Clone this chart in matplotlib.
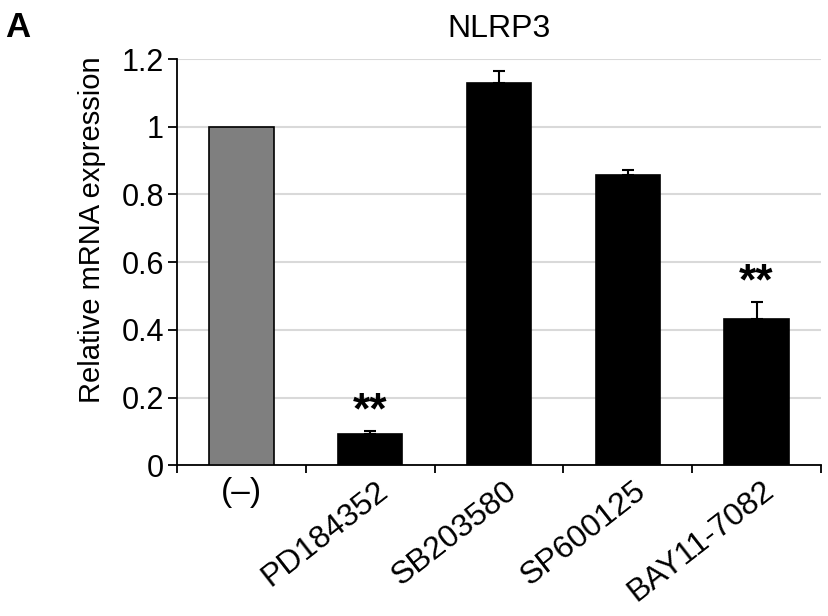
import matplotlib
matplotlib.use("Agg")
import matplotlib.pyplot as plt
import numpy as np

plt.rcParams['font.family'] = ['Liberation Sans', 'DejaVu Sans']

# data
labels = ['(\u2013)', 'PD184352', 'SB203580', 'SP600125', 'BAY11-7082']
values = [1.0, 0.092, 1.13, 0.856, 0.431]
errors = [0.0, 0.010, 0.035, 0.015, 0.051]
colors = ['#7f7f7f', 'black', 'black', 'black', 'black']
stars = ['', '**', '', '', '**']
star_y = [0, 0.125, 0, 0, 0.505]

fig = plt.figure(figsize=(8.29, 6.16), dpi=100)
ax = fig.add_axes([0.2135, 0.2446, 0.7768, 0.6596])

x = np.arange(len(labels))
ax.bar(x, values, width=0.5, color=colors, edgecolor='black', linewidth=1.2, zorder=3)

# upper error bars only, skip the control bar
idx = [i for i in range(len(labels)) if errors[i] > 0]
ax.errorbar(x[idx], [values[i] for i in idx],
            yerr=[[0] * len(idx), [errors[i] for i in idx]],
            fmt='none', ecolor='black', elinewidth=1.5, capsize=4.5, capthick=1.5, zorder=4)

for i, s in enumerate(stars):
    if s:
        ax.text(x[i], star_y[i], s, ha='center', va='baseline', fontsize=32, fontweight='bold')

ax.set_xlim(-0.5, len(labels) - 0.5)
ax.set_ylim(0, 1.2)
ax.set_yticks(np.arange(0, 1.21, 0.2))
ax.set_yticklabels(['0', '0.2', '0.4', '0.6', '0.8', '1', '1.2'])
ax.yaxis.grid(True, color='#d9d9d9', linewidth=1.5, zorder=0)
ax.set_axisbelow(True)

# ticks at category boundaries, labels at centers
ax.set_xticks(np.arange(-0.5, len(labels), 1.0))
ax.set_xticklabels([])
ax.tick_params(axis='x', which='major', length=6, width=1.3, direction='out')
ax.tick_params(axis='y', length=6.5, width=1.3, direction='out', labelsize=22, pad=3)

for i, lab in enumerate(labels):
    if i == 0:
        ax.text(x[i], -0.035, lab, ha='center', va='top', fontsize=24, clip_on=False)
    else:
        ax.text(x[i] + 0.04, -0.03, lab, ha='right', va='top', fontsize=23, rotation=38,
                rotation_mode='anchor', clip_on=False)

for side in ['top', 'right']:
    ax.spines[side].set_visible(False)
for side in ['left', 'bottom']:
    ax.spines[side].set_linewidth(1.3)

ax.set_ylabel('Relative mRNA expression', fontsize=21)
ax.yaxis.set_label_coords(-0.11, 0.58)
ax.set_title('NLRP3', fontsize=23, pad=16)
fig.text(0.006, 0.94, 'A', fontsize=25, fontweight='bold')

fig.savefig('out.png', dpi=100)
